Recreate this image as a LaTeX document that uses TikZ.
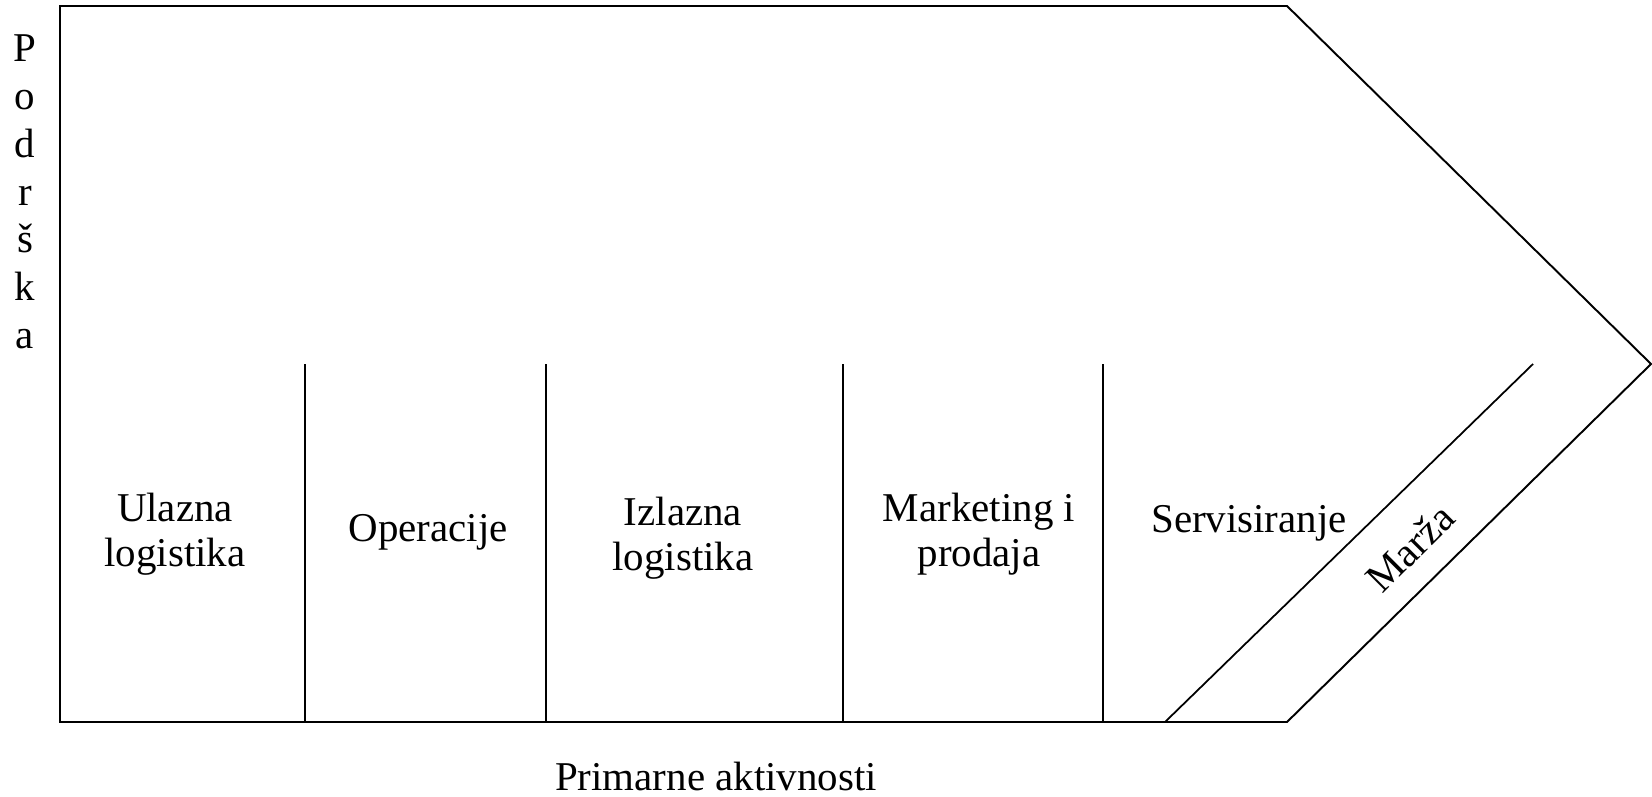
\documentclass[tikz,border=0pt]{standalone}
\usepackage{fontspec}
\setmainfont{Liberation Serif}

\begin{document}
\begin{tikzpicture}[x=0.02cm, y=-0.02cm, line width=1.1pt, line join=miter,
  lbl/.style={font=\fontsize{23.3}{25.6}\selectfont, inner sep=0pt, align=center}]
%\draw[style=help lines] (0,0) grid[step=100] (1652,797);
\useasboundingbox (0,0) rectangle (1652,797);

% outline
\coordinate (tl) at (60,6);
\coordinate (tr) at (1287,6);
\coordinate (tip) at (1651,364);
\coordinate (br) at (1287,722);
\coordinate (bl) at (60,722);
\draw (bl) -- (tl) -- (tr) -- (tip) -- (br) -- cycle;

% primary activities
\foreach \x in {305,546,843,1103}
	\draw[line width=1pt] (\x,364) -- (\x,722);

% margin
\coordinate (mbot) at (1165,722);
\coordinate (mtop) at (1533,364);
\draw[line width=1pt] (mbot) -- (mtop);

% support
\foreach \l [count=\i from 0] in {P,o,d,r,š,k,a}
	\node[lbl, anchor=base] (pod\i) at (25,62+47.7*\i) {\l};

\node[lbl, anchor=base] (ulaz) at (175,566) {Ulazna\\logistika};
\node[lbl, anchor=base] (oper) at (428,541) {Operacije};
\node[lbl, anchor=base] (izlaz) at (683,570) {Izlazna\\logistika};
\node[lbl, anchor=base] (mark) at (979,566) {Marketing i\\prodaja};
\node[lbl, anchor=base] (serv) at (1249,532) {Servisiranje};
\node[lbl, rotate=45] (marza) at (1410,548) {Marža};

\node[lbl, anchor=base] (prim) at (716,790) {Primarne aktivnosti};
\end{tikzpicture}
\end{document}
